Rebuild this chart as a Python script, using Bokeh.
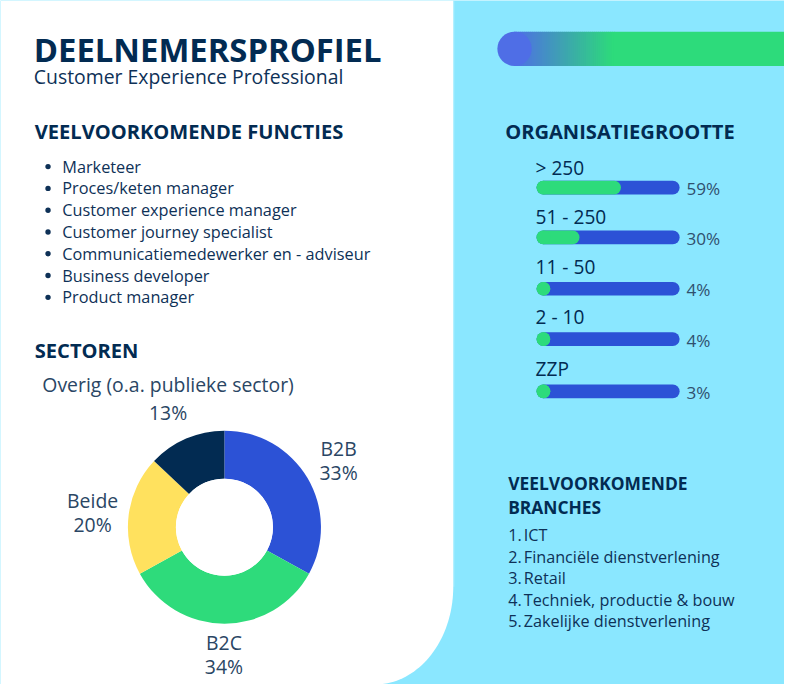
from bokeh.plotting import figure
from bokeh.models import Range1d
from bokeh.core.properties import value
from bokeh.embed import file_html
from bokeh.resources import INLINE
import numpy as np

# ---------------- data ----------------
title = "DEELNEMERSPROFIEL"
subtitle = "Customer Experience Professional"

functies_title = "VEELVOORKOMENDE FUNCTIES"
functies = ["Marketeer", "Proces/keten manager", "Customer experience manager",
            "Customer journey specialist", "Communicatiemedewerker en - adviseur",
            "Business developer", "Product manager"]

sector_title = "SECTOREN"
sector_names = ["B2B", "B2C", "Beide", "Overig (o.a. publieke sector)"]
sector_values = [33, 34, 20, 13]
sector_colors = ["#2C52D6", "#2EDB7B", "#FFE15E", "#022B52"]

org_title = "ORGANISATIEGROOTTE"
org_labels = ["> 250", " 51 - 250", "11 - 50", "2 - 10", "ZZP"]
org_values = [59, 30, 4, 4, 3]

branche_title = ["VEELVOORKOMENDE", "BRANCHES"]
branches = ["ICT", "Financiële dienstverlening", "Retail",
            "Techniek, productie & bouw", "Zakelijke dienstverlening"]

# ---------------- styling ----------------
W, H = 784, 684
S = W / 800.0
NAVY = "#022B52"
TXT = "#0E3157"
LIGHT = "#2A4664"
BG_BLUE = "#8AE7FF"
FONT = "Open Sans"


def fs(px):
    return f"{px * S:.1f}px"


def Y(v):
    return 700 - v


p = figure(width=W, height=H, x_range=Range1d(0, 800), y_range=Range1d(0, 700),
           output_backend="svg", toolbar_location=None, min_border=0)
p.axis.visible = False
p.grid.visible = False
p.outline_line_color = None
p.background_fill_color = BG_BLUE
p.border_fill_color = BG_BLUE

# white left panel with rounded bottom-right corner
cx, cy, rx, ry = 382, 600, 80, 100
t = np.linspace(0, np.pi / 2, 40)
arc_x = list(cx + rx * np.cos(t))
arc_y = list(cy + ry * np.sin(t))
px_ = [0, 462] + arc_x + [0]
py_ = [0, 0] + arc_y + [700]
p.patch(px_, [Y(v) for v in py_], fill_color="white", line_color=None)

# thin lighter edge
p.segment(x0=[462.5], y0=[Y(0)], x1=[462.5], y1=[Y(600)], line_color="#B8F0FF", line_width=1)


def txt(x, y, s, size, color=TXT, style="normal", align="left"):
    p.text(x=[x], y=[Y(y)], text=[s], text_font=value(FONT), text_font_size=value(fs(size)),
           text_font_style=style, text_color=color, text_align=align, text_baseline="middle")


# title
txt(34, 50, title, 33.5, NAVY, "bold")
txt(34, 78, subtitle, 19.8, TXT)

# gradient header bar
c0 = np.array([0x4F, 0x6E, 0xE6])
c1 = np.array([0x2D, 0xDB, 0x7B])
g0, g1 = 524, 626
n = 50
edges = np.linspace(g0, g1, n + 1)
cols = []
for i in range(n):
    f = i / (n - 1)
    c = (c0 * (1 - f) + c1 * f).astype(int)
    cols.append("#%02x%02x%02x" % tuple(c))
p.quad(left=edges[:-1], right=edges[1:] + 0.5, top=[Y(32)] * n, bottom=[Y(67)] * n,
       fill_color=cols, line_color=None)
p.quad(left=[g1], right=[800], top=[Y(32)], bottom=[Y(67)], fill_color="#2DDB7B", line_color=None)
p.ellipse(x=[524.5], y=[Y(49.5)], width=35, height=35 * (H / 700) / S, fill_color="#4F6EE6", line_color=None)

# functies
txt(35, 134, functies_title, 20.5, NAVY, "bold")
fy = [170 + i * 22.3 for i in range(len(functies))]
p.scatter(x=[48.5] * len(functies), y=[Y(v) for v in fy], size=5.5 * S, marker="circle",
          fill_color=TXT, line_color=None)
p.text(x=[63] * len(functies), y=[Y(v) for v in fy], text=functies, text_font=value(FONT),
       text_font_size=value(fs(16.6)), text_color=TXT, text_baseline="middle")

# sectoren donut
txt(35, 358, sector_title, 20.5, NAVY, "bold")
total = float(sum(sector_values))
cum = np.cumsum([0] + sector_values) / total
starts = np.pi / 2 - 2 * np.pi * cum[:-1]
ends = np.pi / 2 - 2 * np.pi * cum[1:]
dcx, dcy = 228.5, 539
p.annular_wedge(x=dcx, y=Y(dcy), inner_radius=49.5, outer_radius=98.5,
                start_angle=list(starts), end_angle=list(ends), direction="clock",
                fill_color=sector_colors, line_color=None)
p.circle(x=[dcx], y=[Y(dcy)], radius=49.5, fill_color="white", line_color=None)

label_pos = [(345, 458, 483), (228, 657, 682), (94, 512, 536), (171, 393, 422)]
for name, v, (lx, ly1, ly2) in zip(sector_names, sector_values, label_pos):
    txt(lx, ly1, name, 19.8, LIGHT, "normal", "center")
    txt(lx, ly2, f"{v}%", 19.8, LIGHT, "normal", "center")

# organisatiegrootte bars
txt(515, 134, org_title, 20.5, NAVY, "bold")
bar_y = [191.5, 242.5, 295, 346.5, 400]
lab_y = [171, 221.5, 273, 323.5, 377]
bx0, bw, bh = 547, 146, 14
r = bh / 2
p.segment(x0=[bx0 + r] * 5, y0=[Y(v) for v in bar_y], x1=[bx0 + bw - r] * 5,
          y1=[Y(v) for v in bar_y], line_color="#2C52D6", line_width=bh * S, line_cap="round")
gx1 = [bx0 + max(v / 100 * bw, bh) - r for v in org_values]
p.segment(x0=[bx0 + r] * 5, y0=[Y(v) for v in bar_y], x1=gx1,
          y1=[Y(v) for v in bar_y], line_color="#2DDB7B", line_width=bh * S, line_cap="round")
p.scatter(x=[bx0 + r] * 5, y=[Y(v) for v in bar_y], size=bh * S, marker="circle",
          fill_color="#2DDB7B", line_color=None)
p.text(x=[546] * 5, y=[Y(v) for v in lab_y], text=org_labels, text_font=value(FONT),
       text_font_size=value(fs(19.5)), text_color=NAVY, text_baseline="middle")
p.text(x=[700] * 5, y=[Y(v + 1) for v in bar_y], text=[f"{v}%" for v in org_values],
       text_font=value(FONT), text_font_size=value(fs(17.5)), text_color="#30506E",
       text_baseline="middle")

# branches
txt(518, 494, branche_title[0], 17.8, NAVY, "bold")
txt(518, 518, branche_title[1], 17.8, NAVY, "bold")
by = [547 + i * 22.1 for i in range(len(branches))]
p.text(x=[518] * len(branches), y=[Y(v) for v in by], text=[f"{i + 1}." for i in range(len(branches))],
       text_font=value(FONT), text_font_size=value(fs(16.5)), text_color=TXT, text_baseline="middle")
p.text(x=[534] * len(branches), y=[Y(v) for v in by], text=branches,
       text_font=value(FONT), text_font_size=value(fs(16.5)), text_color=TXT, text_baseline="middle")

open("out.html", "w").write(file_html(p, INLINE))
